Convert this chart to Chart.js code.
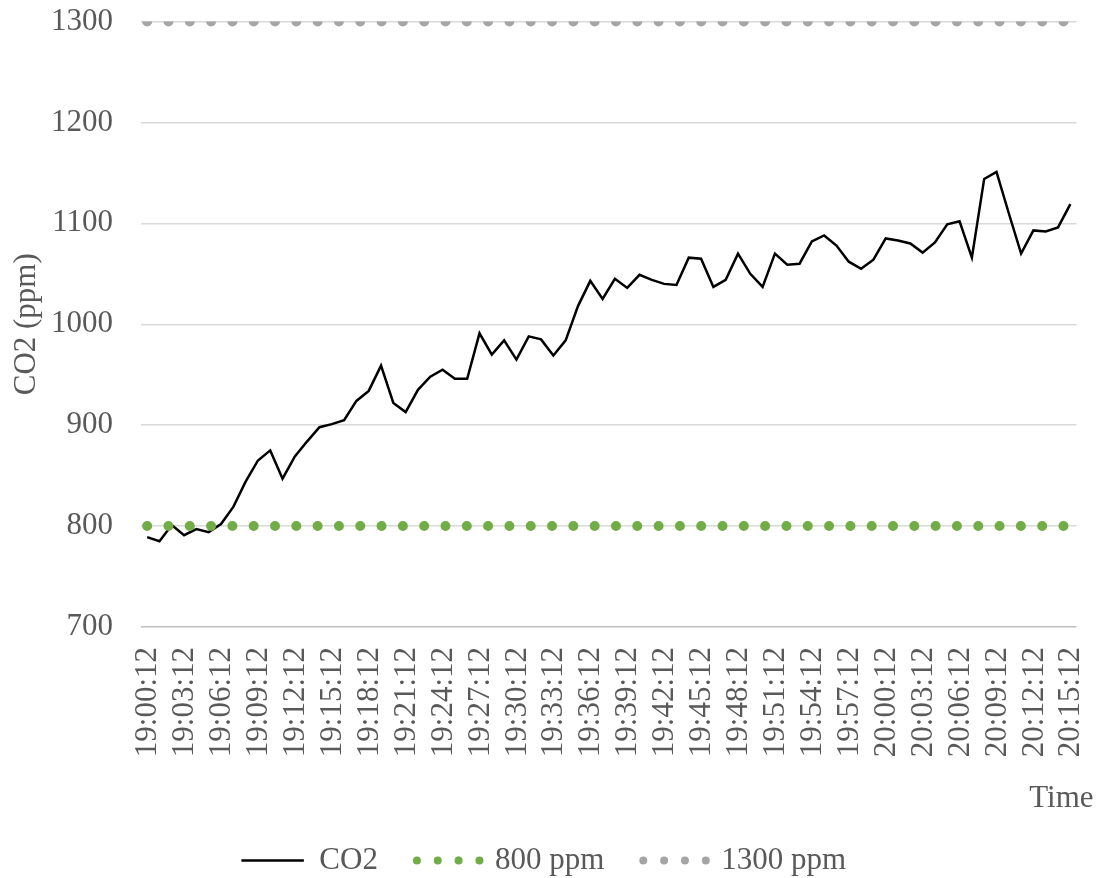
<!DOCTYPE html>
<html>
<head>
<meta charset="utf-8">
<script src="https://cdn.jsdelivr.net/npm/chart.js@4.4.0/dist/chart.umd.min.js"></script>
<style>
  html, body { margin: 0; padding: 0; background: #ffffff; }
  #wrap { width: 1096px; height: 878px; }
</style>
</head>
<body>
<div id="wrap"><canvas id="c" width="1096" height="878"></canvas></div>
<script>
const times = [
  "19:00:12","19:01:12","19:02:12","19:03:12","19:04:12","19:05:12","19:06:12","19:07:12","19:08:12","19:09:12",
  "19:10:12","19:11:12","19:12:12","19:13:12","19:14:12","19:15:12","19:16:12","19:17:12","19:18:12","19:19:12",
  "19:20:12","19:21:12","19:22:12","19:23:12","19:24:12","19:25:12","19:26:12","19:27:12","19:28:12","19:29:12",
  "19:30:12","19:31:12","19:32:12","19:33:12","19:34:12","19:35:12","19:36:12","19:37:12","19:38:12","19:39:12",
  "19:40:12","19:41:12","19:42:12","19:43:12","19:44:12","19:45:12","19:46:12","19:47:12","19:48:12","19:49:12",
  "19:50:12","19:51:12","19:52:12","19:53:12","19:54:12","19:55:12","19:56:12","19:57:12","19:58:12","19:59:12",
  "20:00:12","20:01:12","20:02:12","20:03:12","20:04:12","20:05:12","20:06:12","20:07:12","20:08:12","20:09:12",
  "20:10:12","20:11:12","20:12:12","20:13:12","20:14:12","20:15:12"
];
const co2 = [
  789,785,801,791,797,794,802,819,844,865,
  875,847,869,884,898,901,905,924,934,959,
  922,913,935,948,955,946,946,991,970,984,
  965,988,985,969,984,1018,1043,1025,1045,1036,
  1049,1044,1040,1039,1066,1065,1037,1044,1070,1050,
  1037,1070,1059,1060,1082,1088,1078,1062,1055,1064,
  1085,1083,1080,1071,1081,1099,1102,1066,1144,1151,
  1110,1070,1093,1092,1096,1119
];
const limit800 = [
  800,800,800,800,800,800,800,800,800,800,
  800,800,800,800,800,800,800,800,800,800,
  800,800,800,800,800,800,800,800,800,800,
  800,800,800,800,800,800,800,800,800,800,
  800,800,800,800,800,800,800,800,800,800,
  800,800,800,800,800,800,800,800,800,800,
  800,800,800,800,800,800,800,800,800,800,
  800,800,800,800,800,800
];
const limit1300 = [
  1300,1300,1300,1300,1300,1300,1300,1300,1300,1300,
  1300,1300,1300,1300,1300,1300,1300,1300,1300,1300,
  1300,1300,1300,1300,1300,1300,1300,1300,1300,1300,
  1300,1300,1300,1300,1300,1300,1300,1300,1300,1300,
  1300,1300,1300,1300,1300,1300,1300,1300,1300,1300,
  1300,1300,1300,1300,1300,1300,1300,1300,1300,1300,
  1300,1300,1300,1300,1300,1300,1300,1300,1300,1300,
  1300,1300,1300,1300,1300,1300
];
const seriesNames = ["CO2", "800 ppm", "1300 ppm"];
const yTicks = [700, 800, 900, 1000, 1100, 1200, 1300];
const xLabelEvery = 3;

const FONT = "'Liberation Serif', 'Times New Roman', serif";
Chart.defaults.font.family = FONT;
Chart.defaults.font.size = 31;
Chart.defaults.color = '#595959';

const shiftTitle = {
  id: 'shiftTitle',
  afterLayout(chart) { chart.scales.x.right = chart.scales.x.right + 17; }
};

new Chart(document.getElementById('c'), {
  type: 'line',
  data: {
    labels: times,
    datasets: [
      { label: seriesNames[0], data: co2, borderColor: '#000000', backgroundColor: 'rgba(0,0,0,0)',
        borderWidth: 2.5, pointRadius: 0, tension: 0, order: 3, borderCapStyle: 'butt' },
      { label: seriesNames[1], data: limit800, borderColor: '#70AD47', backgroundColor: 'rgba(0,0,0,0)',
        borderWidth: 10, borderDash: [0, 21.31], borderCapStyle: 'round', pointRadius: 0, order: 1 },
      { label: seriesNames[2], data: limit1300, borderColor: '#A5A5A5', backgroundColor: 'rgba(0,0,0,0)',
        borderWidth: 10, borderDash: [0, 21.31], borderCapStyle: 'round', pointRadius: 0, order: 2,
        clip: { left: false, top: 0, right: false, bottom: false } }
    ]
  },
  options: {
    responsive: false,
    animation: false,
    layout: { padding: { top: 21.5, right: 19.5, bottom: -8, left: 11 } },
    plugins: {
      tooltip: { enabled: false },
      legend: {
        position: 'bottom',
        labels: {
          boxWidth: 62.5,
          boxHeight: 0,
          padding: 39,
          color: '#595959',
          font: { size: 31, family: FONT },
          sort: (a, b) => a.datasetIndex - b.datasetIndex,
          generateLabels(chart) {
            const items = Chart.defaults.plugins.legend.labels.generateLabels(chart);
            items.forEach(it => {
              if (it.datasetIndex > 0) { it.lineWidth = 8; it.lineDash = [0, 20.8333]; it.lineCap = 'round'; }
            });
            return items;
          }
        }
      }
    },
    scales: {
      x: {
        type: 'category',
        offset: true,
        grid: { display: false, drawTicks: false },
        border: { display: false },
        ticks: {
          autoSkip: false,
          minRotation: 90,
          maxRotation: 90,
          padding: 20,
          labelOffset: 1,
          color: '#595959',
          font: { size: 31, family: FONT },
          callback: function(v, i) { return i % xLabelEvery === 0 ? times[i] : ''; }
        },
        title: { display: true, text: 'Time', align: 'end', color: '#595959',
                 font: { size: 31, family: FONT }, padding: { top: 0, bottom: -11 } },
        afterFit(scale) { scale.height = 179; scale.paddingLeft = 0; scale.paddingRight = 0; }
      },
      y: {
        min: 700,
        max: 1300,
        afterBuildTicks(scale) { scale.ticks = yTicks.map(v => ({ value: v })); },
        grid: {
          drawTicks: false,
          lineWidth: 1.5,
          color: (ctx) => (ctx.tick && ctx.tick.value === 700) ? '#BFBFBF' : '#D9D9D9'
        },
        border: { display: false },
        ticks: {
          padding: 28, color: '#595959', font: { size: 31, family: FONT },
          callback: (v) => String(v)
        },
        title: { display: true, text: 'CO2 (ppm)', color: '#595959',
                 font: { size: 31, family: FONT }, padding: { top: -3, bottom: 0 } },
        afterFit(scale) { scale.width = 130; scale.paddingTop = 0; scale.paddingBottom = 0; }
      }
    }
  },
  plugins: [shiftTitle]
});
</script>
</body>
</html>
